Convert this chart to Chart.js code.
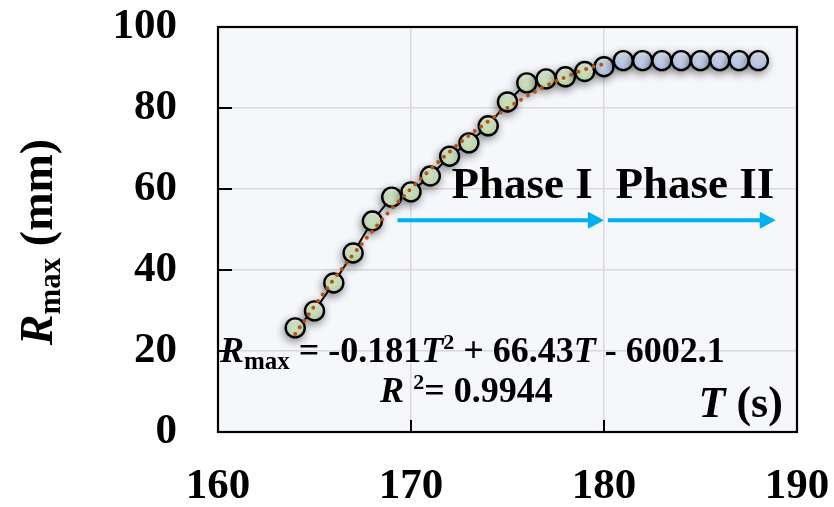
<!DOCTYPE html>
<html lang="en">
<head>
<meta charset="UTF-8" />
<script src="https://cdn.jsdelivr.net/npm/chart.js"></script>
<title>Rmax vs T</title>
<style>
    body { margin: 0; background: #fff; }
    .box { width: 834px; height: 507px; }
</style>
</head>
<body>
<div class="box"><canvas id="RmaxChart"></canvas></div>
<script>
    // measured points
    const phase1T = [164, 165, 166, 167, 168, 169, 170, 171, 172, 173, 174, 175, 176, 177, 178, 179];
    const phase1R = [25.7, 29.9, 36.8, 44.2, 52.1, 58.0, 59.3, 63.2, 68.1, 71.4, 75.6, 81.5, 86.2, 87.2, 87.7, 89.0];
    const phase2T = [180, 181, 182, 183, 184, 185, 186, 187, 188];
    const phase2R = [90.2, 91.7, 91.7, 91.7, 91.7, 91.7, 91.7, 91.7, 91.7];

    // fitted curve
    const trendT = [164, 165, 166, 167, 168, 169, 170, 171, 172, 173, 174, 175, 176, 177, 178, 179, 180];
    const trendR = [24.2, 31.1, 37.7, 43.8, 49.6, 55.1, 60.1, 64.8, 69.2, 73.2, 76.7, 80.0, 82.9, 85.5, 87.6, 89.5, 90.9];

    const xTicks = [160, 170, 180, 190];
    const yTicks = [0, 20, 40, 60, 80, 100];

    const SERIF = '"Liberation Serif", "Times New Roman", serif';

    function gradFill(top, bottom, fallback) {
        return function (c) {
            if (c.type !== 'data' || !c.chart.chartArea) return fallback;
            const y = c.chart.scales.y.getPixelForValue(c.parsed.y);
            const g = c.chart.ctx.createLinearGradient(0, y - 10, 0, y + 10);
            g.addColorStop(0, top);
            g.addColorStop(1, bottom);
            return g;
        };
    }

    const toXY = (xs, ys) => xs.map((x, i) => ({ x: x, y: ys[i] }));

    // soft shadow under the markers
    const shadowPlugin = {
        id: 'shadow',
        beforeDatasetDraw(chart, args) {
            if (chart.data.datasets[args.index].shadow) {
                const ctx = chart.ctx;
                ctx.save();
                ctx.shadowColor = 'rgba(0,0,0,0.4)';
                ctx.shadowBlur = 8;
                ctx.shadowOffsetX = -1;
                ctx.shadowOffsetY = 3;
            }
        },
        afterDatasetDraw(chart, args) {
            if (chart.data.datasets[args.index].shadow) chart.ctx.restore();
        }
    };

    const framePlugin = {
        id: 'frame',
        beforeDraw(chart) {
            const { ctx, chartArea: a } = chart;
            ctx.save();
            ctx.fillStyle = '#f5f7fb';
            ctx.fillRect(a.left, a.top, a.right - a.left, a.bottom - a.top);
            ctx.restore();
        },
        beforeDatasetsDraw(chart) {
            const { ctx, chartArea: a, scales } = chart;
            ctx.save();
            ctx.strokeStyle = '#000';
            ctx.lineWidth = 2.2;
            ctx.strokeRect(a.left, a.top, a.right - a.left, a.bottom - a.top);
            ctx.lineWidth = 2;
            ctx.beginPath();
            yTicks.forEach(v => {
                const y = scales.y.getPixelForValue(v);
                ctx.moveTo(a.left, y);
                ctx.lineTo(a.left + 14, y);
            });
            xTicks.forEach(v => {
                const x = scales.x.getPixelForValue(v);
                ctx.moveTo(x, a.bottom);
                ctx.lineTo(x, a.bottom - 12);
            });
            ctx.stroke();
            ctx.restore();
        },
        afterDraw(chart) {
            const { ctx, scales } = chart;
            const px = v => scales.x.getPixelForValue(v);
            const py = v => scales.y.getPixelForValue(v);
            const fontOf = p => (p[2] || 'bold') + ' ' + p[1] + 'px ' + SERIF;

            // draws a run of [text, size, style, dy] pieces
            function run(x, y, parts) {
                parts.forEach(p => {
                    ctx.font = fontOf(p);
                    ctx.fillText(p[0], x, y + (p[3] || 0));
                    x += ctx.measureText(p[0]).width;
                });
                return x;
            }

            ctx.save();
            ctx.fillStyle = '#000';
            ctx.textBaseline = 'alphabetic';
            ctx.textAlign = 'left';

            // arrows
            const arrows = [[169.3, 180.0], [180.2, 188.9]];
            ctx.strokeStyle = '#00b0f0';
            ctx.fillStyle = '#00b0f0';
            ctx.lineWidth = 4;
            arrows.forEach(ar => {
                const x0 = px(ar[0]), x1 = px(ar[1]), y = py(52.3);
                ctx.beginPath();
                ctx.moveTo(x0, y);
                ctx.lineTo(x1 - 14, y);
                ctx.stroke();
                ctx.beginPath();
                ctx.moveTo(x1, y);
                ctx.lineTo(x1 - 16, y - 8.5);
                ctx.lineTo(x1 - 16, y + 8.5);
                ctx.closePath();
                ctx.fill();
            });

            ctx.fillStyle = '#000';
            run(px(172.1), py(57.8), [['Phase I', 45]]);
            run(px(180.6), py(57.8), [['Phase II', 45]]);

            // fit equation
            run(px(160.1), py(17.3), [
                ['R', 36, 'italic bold'], ['max', 25, 'bold', 7], [' = -0.181', 36],
                ['T', 36, 'italic bold'], ['2', 22, 'bold', -13], [' + 66.43', 36],
                ['T', 36, 'italic bold'], [' - 6002.1', 36]
            ]);
            run(px(168.4), py(7.4), [
                ['R', 36, 'italic bold'], [' ', 36], ['2', 22, 'bold', -13], ['= 0.9944', 36]
            ]);

            // x axis title inside the plot
            run(px(184.9), py(3.7), [['T', 44, 'italic bold'], [' (s)', 44]]);

            // y axis title
            const parts = [['R', 46, 'italic bold'], ['max', 31, 'bold', 8], [' (mm)', 46]];
            let w = 0;
            parts.forEach(p => {
                ctx.font = fontOf(p);
                w += ctx.measureText(p[0]).width;
            });
            ctx.translate(52, 242);
            ctx.rotate(-Math.PI / 2);
            run(-w / 2, 0, parts);
            ctx.restore();
        }
    };

    const ctx = document.getElementById('RmaxChart');

    const RmaxChart = new Chart(ctx, {
        type: 'scatter',
        data: {
            datasets: [
                {
                    label: 'fit',
                    data: toXY(trendT, trendR),
                    showLine: true,
                    borderColor: '#b8520f',
                    borderWidth: 4,
                    borderDash: [0, 8],
                    borderCapStyle: 'round',
                    tension: 0.4,
                    pointRadius: 0,
                    order: 0
                },
                {
                    label: 'Phase I',
                    data: toXY(phase1T, phase1R),
                    showLine: true,
                    borderColor: '#000',
                    borderWidth: 2,
                    pointRadius: 9.5,
                    pointBorderWidth: 2.4,
                    pointBorderColor: '#000',
                    pointBackgroundColor: gradFill('#ebf6e3', '#c4e2ae', '#d8ecca'),
                    shadow: true,
                    order: 1
                },
                {
                    label: 'Phase II',
                    data: toXY(phase2T, phase2R),
                    showLine: true,
                    borderColor: '#000',
                    borderWidth: 2,
                    pointRadius: 9.5,
                    pointBorderWidth: 2.4,
                    pointBorderColor: '#000',
                    pointBackgroundColor: gradFill('#e6edf9', '#b4c7ec', '#ccd8f0'),
                    shadow: true,
                    order: 2
                }
            ]
        },
        options: {
            responsive: true,
            maintainAspectRatio: false,
            animation: false,
            layout: { padding: { top: 27, right: 37, left: 0, bottom: 0 } },
            scales: {
                x: {
                    type: 'linear',
                    min: 160,
                    max: 190,
                    afterFit: s => { s.height = 75; s.paddingLeft = 0; s.paddingRight = 0; },
                    afterBuildTicks: s => { s.ticks = xTicks.map(v => ({ value: v })); },
                    grid: { color: '#d9d9d9', lineWidth: 1.5, drawTicks: false },
                    border: { display: false },
                    ticks: {
                        padding: 29,
                        color: '#000',
                        font: { family: SERIF, size: 43, weight: 'bold' }
                    }
                },
                y: {
                    min: 0,
                    max: 100,
                    afterFit: s => { s.width = 218; s.paddingTop = 0; s.paddingBottom = 0; },
                    afterBuildTicks: s => { s.ticks = yTicks.map(v => ({ value: v })); },
                    grid: { color: '#d9d9d9', lineWidth: 1.5, drawTicks: false },
                    border: { display: false },
                    ticks: {
                        padding: 41,
                        color: '#000',
                        font: { family: SERIF, size: 43, weight: 'bold' }
                    }
                }
            },
            plugins: {
                legend: { display: false },
                tooltip: { enabled: false }
            }
        },
        plugins: [framePlugin, shadowPlugin]
    });
</script>
</body>
</html>
